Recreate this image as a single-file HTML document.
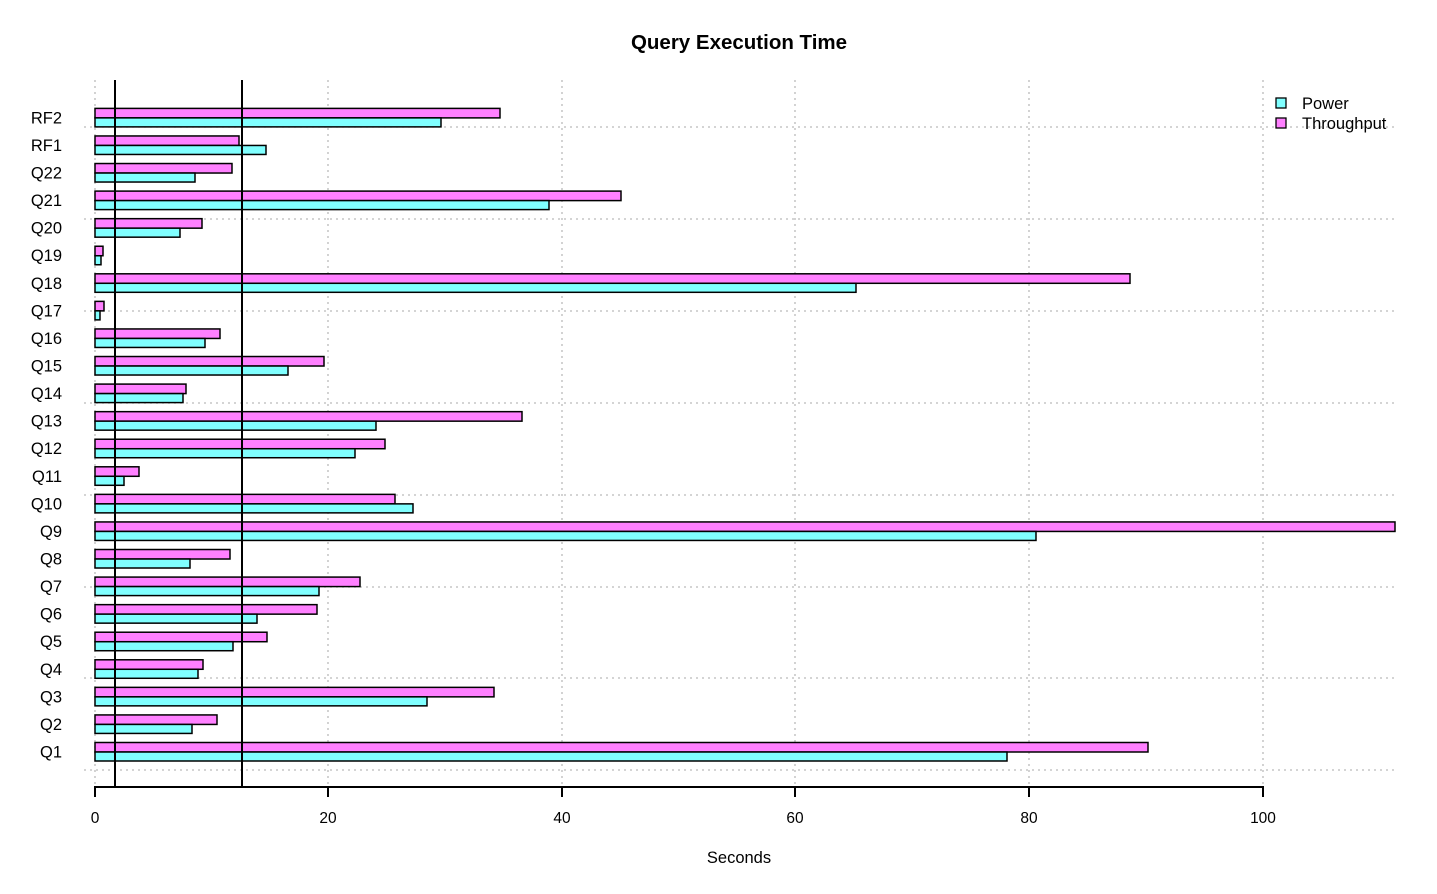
<!DOCTYPE html><html><head><meta charset="utf-8"><style>body{margin:0;background:#fff}</style></head><body>
<svg width="1437" height="889" xmlns="http://www.w3.org/2000/svg" font-family="Liberation Sans, sans-serif">
<text x="739" y="49" text-anchor="middle" font-size="20.5" font-weight="bold">Query Execution Time</text>
<g stroke="#bbb" stroke-dasharray="2,4" stroke-width="1.3">
<line x1="95" y1="80" x2="95" y2="786"/><line x1="328" y1="80" x2="328" y2="786"/><line x1="562" y1="80" x2="562" y2="786"/><line x1="795" y1="80" x2="795" y2="786"/><line x1="1029" y1="80" x2="1029" y2="786"/><line x1="1263" y1="80" x2="1263" y2="786"/>
<line x1="84" y1="770" x2="1395" y2="770"/><line x1="84" y1="678" x2="1395" y2="678"/><line x1="84" y1="587" x2="1395" y2="587"/><line x1="84" y1="495" x2="1395" y2="495"/><line x1="84" y1="403" x2="1395" y2="403"/><line x1="84" y1="311" x2="1395" y2="311"/><line x1="84" y1="219" x2="1395" y2="219"/><line x1="84" y1="127" x2="1395" y2="127"/>
</g>
<g id="bars" stroke="#000" stroke-width="1.5"></g>
<g id="labels" font-size="16.5" text-anchor="end"></g>
<line x1="115" y1="80" x2="115" y2="786" stroke="#000" stroke-width="2"/>
<line x1="242" y1="80" x2="242" y2="786" stroke="#000" stroke-width="2"/>
<line x1="95" y1="787" x2="1263" y2="787" stroke="#000" stroke-width="2"/>
<g stroke="#000" stroke-width="2"><line x1="95" y1="786" x2="95" y2="797"/><line x1="328" y1="786" x2="328" y2="797"/><line x1="562" y1="786" x2="562" y2="797"/><line x1="795" y1="786" x2="795" y2="797"/><line x1="1029" y1="786" x2="1029" y2="797"/><line x1="1263" y1="786" x2="1263" y2="797"/></g>
<g font-size="15.5" text-anchor="middle"><text x="95" y="823">0</text><text x="328" y="823">20</text><text x="562" y="823">40</text><text x="795" y="823">60</text><text x="1029" y="823">80</text><text x="1263" y="823">100</text></g>
<text x="739" y="863" text-anchor="middle" font-size="16.5">Seconds</text>
<rect x="1276" y="98" width="10" height="10" fill="#80ffff" stroke="#000" stroke-width="1.3"/>
<rect x="1276" y="118" width="10" height="10" fill="#ff80ff" stroke="#000" stroke-width="1.3"/>
<text x="1302" y="109" font-size="16.5">Power</text><text x="1302" y="129" font-size="16.5">Throughput</text>
</svg>
<script>
var d=[["Q1",1148,1007],["Q2",217,192],["Q3",494,427],["Q4",203,198],["Q5",267,233],["Q6",317,257],["Q7",360,319],["Q8",230,190],["Q9",1395,1036],["Q10",395,413],["Q11",139,124],["Q12",385,355],["Q13",522,376],["Q14",186,183],["Q15",324,288],["Q16",220,205],["Q17",104,100],["Q18",1130,856],["Q19",103,101],["Q20",202,180],["Q21",621,549],["Q22",232,195],["RF1",239,266],["RF2",500,441]];
var b="",l="";d.forEach(function(r,i){var c=752-i*27.57;
b+='<rect x="95" y="'+(c-9.5)+'" width="'+(r[1]-95)+'" height="9.5" fill="#ff80ff"/>';
b+='<rect x="95" y="'+c+'" width="'+(r[2]-95)+'" height="9" fill="#80ffff"/>';
l+='<text x="62" y="'+(c+5.5)+'">'+r[0]+'</text>';});
document.getElementById("bars").innerHTML=b;document.getElementById("labels").innerHTML=l;
</script>
</body></html>
